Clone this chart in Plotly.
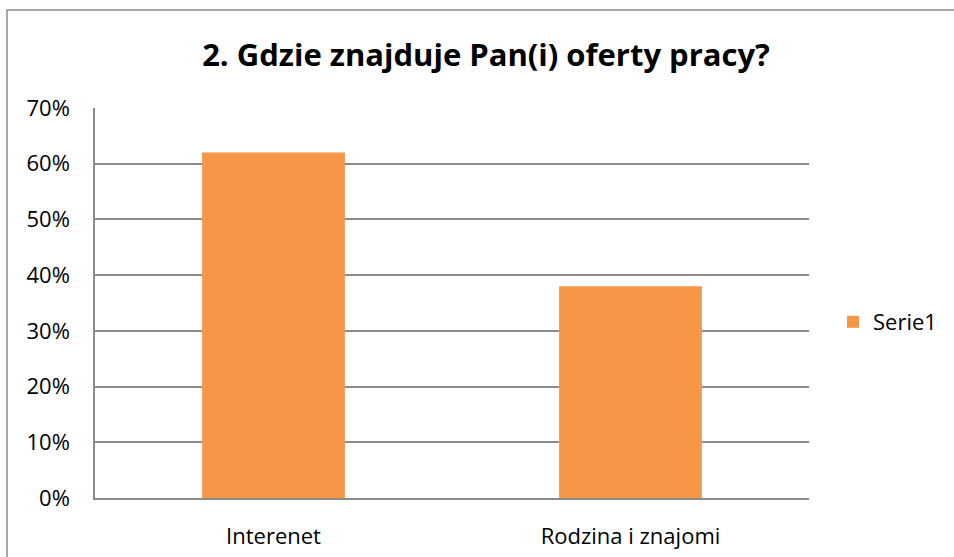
import plotly.graph_objects as go

categories = ["Interenet", "Rodzina i znajomi"]
values = [0.62, 0.38]
series_name = "Serie1"
title_text = "<b>2. Gdzie znajduje Pan(i) oferty pracy?</b>"

W, H = 954, 557
L, R, T, B = 95, 809, 108, 498
pw, ph = R - L, B - T

fig = go.Figure()
fig.add_trace(go.Bar(x=categories, y=values, name=series_name,
                     marker=dict(color="#F79646", line=dict(width=0)),
                     showlegend=True))

fnt = "'Open Sans', sans-serif"
fig.update_layout(
    width=W, height=H,
    margin=dict(l=L, r=W - R, t=T, b=H - B, pad=0, autoexpand=False),
    paper_bgcolor="white", plot_bgcolor="white",
    font=dict(family=fnt, size=22, color="#000000"),
    title=dict(text=title_text, x=486 / W, xanchor="center",
               y=1 - 55 / H, yanchor="middle", yref="container",
               font=dict(family=fnt, size=31, color="#000000")),
    bargap=0.6,
    xaxis=dict(showgrid=False, showline=True, linecolor="#8C8C8C", linewidth=1.5,
               ticks="", tickfont=dict(size=22), ticklabelstandoff=18,
               range=[-0.5, 1.5], automargin=False),
    yaxis=dict(range=[0, 0.70], dtick=0.1, tickformat=".0%",
               showgrid=True, gridcolor="#8C8C8C", gridwidth=1.5,
               showline=True, linecolor="#8C8C8C", linewidth=1.5,
               zeroline=False, ticks="", tickfont=dict(size=22),
               ticklabelstandoff=19, automargin=False),
    legend=dict(x=(833 - L) / pw, y=(B - 322) / ph, xanchor="left", yanchor="middle",
                font=dict(size=22), bgcolor="rgba(0,0,0,0)", itemwidth=30),
    shapes=[dict(type="rect", xref="paper", yref="paper",
                 x0=(7 - L) / pw, x1=(W + 20 - L) / pw,
                 y0=(B - (H + 20)) / ph, y1=(B - 10) / ph,
                 line=dict(color="#8C8C8C", width=1.5), fillcolor="rgba(0,0,0,0)",
                 layer="below")],
)

fig.write_html("out.html", config={"displayModeBar": False},
               post_script="document.body.style.margin='0';document.body.style.overflow='hidden';")
